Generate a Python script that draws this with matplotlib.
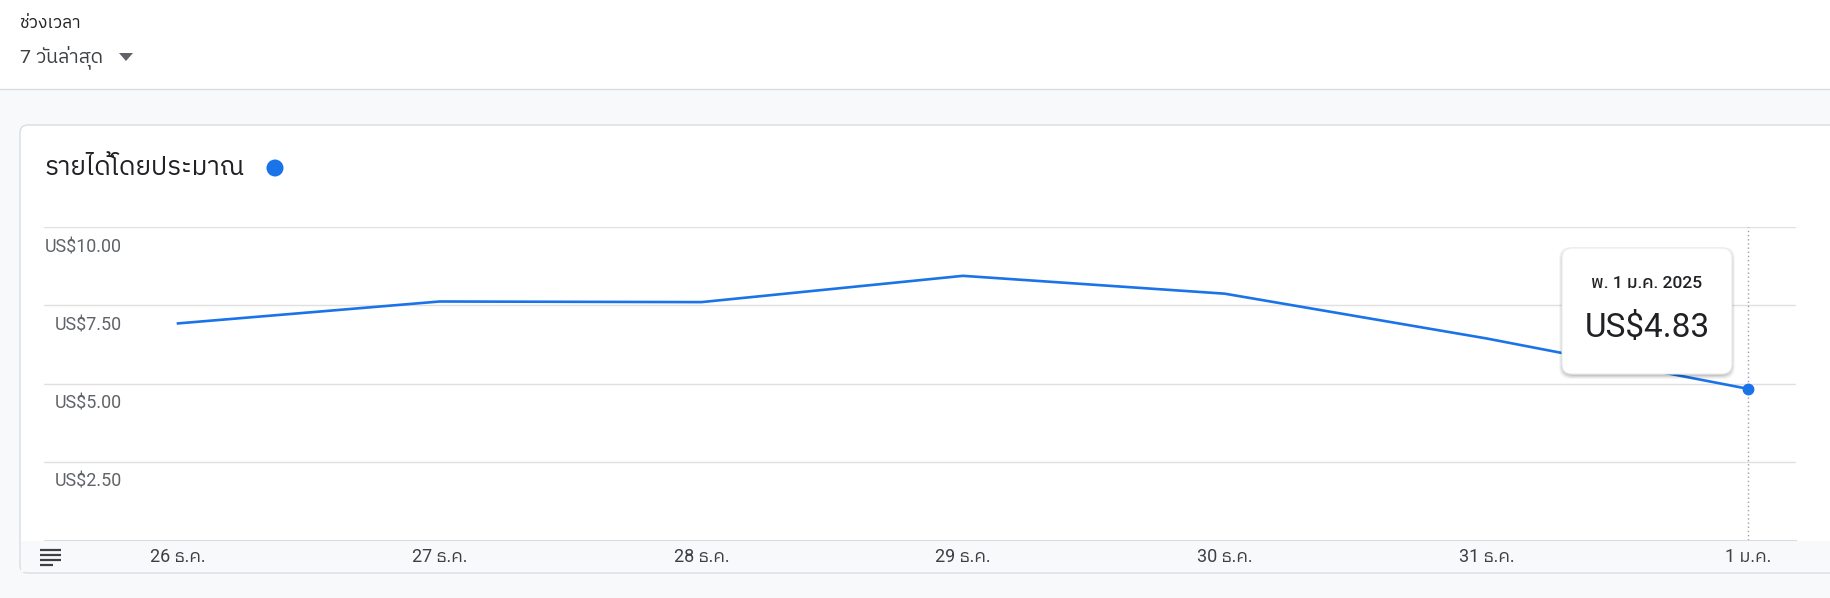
import matplotlib
matplotlib.use("Agg")
from matplotlib import pyplot as plt
from matplotlib import font_manager as fm
from matplotlib.ft2font import FT2Font
from matplotlib.patches import FancyBboxPatch, Rectangle, Circle, Polygon

# data
days = ["26 ธ.ค.", "27 ธ.ค.", "28 ธ.ค.", "29 ธ.ค.", "30 ธ.ค.", "31 ธ.ค.", "1 ม.ค."]
revenue = [6.92, 7.62, 7.60, 8.44, 7.87, 6.44, 4.83]
yticks = [2.5, 5.0, 7.5, 10.0]
ylabels = ["US$2.50", "US$5.00", "US$7.50", "US$10.00"]
tip_date = "พ. 1 ม.ค. 2025"
title = "รายได้โดยประมาณ"
range_label = "ช่วงเวลา"
range_value = "7 วันล่าสุด"

# find something that can draw Thai
cands = []
for f in fm.fontManager.ttflist:
    try:
        if FT2Font(f.fname).get_char_index(0x0E23):
            cands.append(f.name)
    except Exception:
        pass
cands.sort(key=lambda n: (("Thai" not in n), ("Sans" not in n), n))
fams = ["Roboto"] + ([cands[0]] if cands else []) + ["DejaVu Sans"]
plt.rcParams["font.family"] = fams

W, H = 1830, 598
fig = plt.figure(figsize=(W / 100, H / 100), dpi=100, facecolor="#f8f9fa")

# background UI layer in pixel coords
bg = fig.add_axes([0, 0, 1, 1])
bg.set_xlim(0, W)
bg.set_ylim(H, 0)
bg.axis("off")
bg.add_patch(Rectangle((0, 0), W, 89, fc="white", ec="none"))
bg.plot([0, W], [89, 89], color="#dadce0", lw=1)
bg.text(20, 24, range_label, fontsize=12.5, color="#202124", va="center")
bg.text(20, 57, range_value, fontsize=14, color="#3c4043", va="center")
bg.add_patch(Polygon([[119, 53], [133, 53], [126, 61]], fc="#5f6368", ec="none"))

card = FancyBboxPatch((20, 125), 1850, 448, boxstyle="round,pad=0,rounding_size=8",
                      fc="white", ec="#dadce0", lw=1)
bg.add_patch(card)
bg.add_patch(Rectangle((21, 540.5), W, 31.5, fc="#f8f9fa", ec="none"))
bg.text(45, 168, title, fontsize=18.7, color="#202124", va="center")
bg.add_patch(Circle((275, 168), 8.5, fc="#1a73e8", ec="none"))
for yy, x2 in [(549.5, 61), (554.5, 61), (559.5, 61), (564.5, 53)]:
    bg.plot([40, x2], [yy, yy], color="#3c4043", lw=1.6, solid_capstyle="butt")

# chart axes
x0, x1, ytop, ybot = 44, 1796, 227, 540
ax = fig.add_axes([x0 / W, (H - ybot) / H, (x1 - x0) / W, (ybot - ytop) / H])
ax.patch.set_alpha(0)
step = 261.67
xs = list(range(len(days)))
ax.set_xlim((x0 - 178) / step, (x1 - 178) / step)
ax.set_ylim(0, 10)
for s in ["top", "left", "right"]:
    ax.spines[s].set_visible(False)
ax.spines["bottom"].set_color("#dadce0")
ax.set_yticks(yticks)
ax.yaxis.grid(True, color="#e0e0e0", lw=1)
ax.tick_params(axis="y", length=0, labelleft=False)
ax.set_xticks(xs)
ax.set_xticklabels(days, fontsize=13, color="#3c4043")
ax.tick_params(axis="x", length=0, pad=6)
ax.set_axisbelow(True)

for v, lab in zip(yticks, ylabels):
    ax.annotate(lab, xy=(0, v), xycoords=("axes fraction", "data"),
                xytext=(78, -20), textcoords="offset pixels",
                ha="right", va="center", fontsize=12.9, color="#5f6368")

ax.axvline(xs[-1], color="#9aa0a6", lw=1, ls=(0, (1, 2)))
ax.plot(xs, revenue, color="#1a73e8", lw=1.9, solid_joinstyle="round")
ax.plot(xs[-1], revenue[-1], "o", color="#1a73e8", ms=7.5, clip_on=False)

# tooltip on top
top = fig.add_axes([0, 0, 1, 1])
top.set_xlim(0, W)
top.set_ylim(H, 0)
top.axis("off")
for k, a in [(4, 0.04), (3, 0.05), (2, 0.07), (1, 0.08)]:
    top.add_patch(FancyBboxPatch((1562 - k + 1, 248 - k + 3), 170 + 2 * k - 2, 126 + 2 * k - 2,
                                 boxstyle="round,pad=0,rounding_size=12",
                                 fc="black", ec="none", alpha=a))
top.add_patch(FancyBboxPatch((1562, 248), 170, 126, boxstyle="round,pad=0,rounding_size=10",
                             fc="white", ec="#e8eaed", lw=0.8))
top.text(1647, 284, tip_date, fontsize=12.5, color="#202124", ha="center", va="center",
         fontweight="medium")
top.text(1647, 328, "US$%.2f" % revenue[-1], fontsize=24, color="#202124",
         ha="center", va="center")

fig.savefig("out.png", dpi=100, facecolor=fig.get_facecolor())
